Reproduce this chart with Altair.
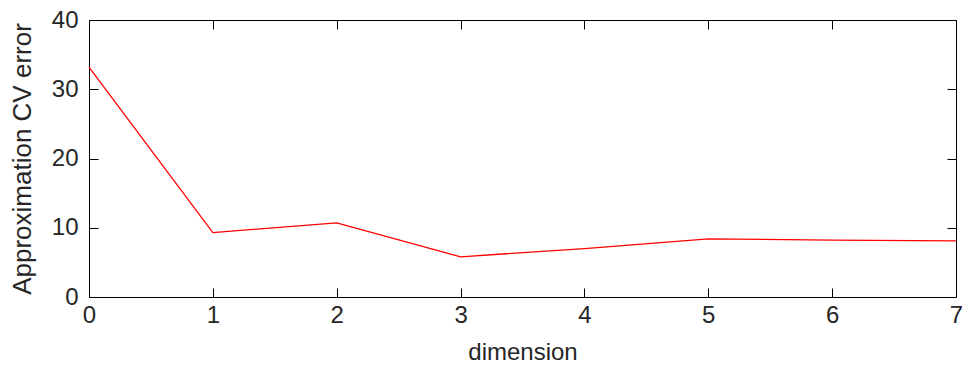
import altair as alt
import pandas as pd

dims = [0, 1, 2, 3, 4, 5, 6, 7]
cv_error = [33.2, 9.3, 10.7, 5.8, 7.0, 8.4, 8.2, 8.1]
x_ticks = [0, 1, 2, 3, 4, 5, 6, 7]
y_ticks = [0, 10, 20, 30, 40]

df = pd.DataFrame({"dimension": dims, "error": cv_error})

FONT = "Liberation Sans"
TXT = "#262626"

xscale = alt.Scale(domain=[0, 7], nice=False, zero=False)
yscale = alt.Scale(domain=[0, 40], nice=False)

line = alt.Chart(df).mark_line(color="#ff0000", strokeWidth=1.3).encode(
    x=alt.X("dimension:Q", scale=xscale,
            axis=alt.Axis(values=x_ticks, orient="bottom", offset=-9, tickSize=9,
                          tickColor="#000", domain=False, grid=False,
                          labelFlush=False, labelOverlap=False,
                          labelPadding=6, labelFontSize=24, labelFont=FONT,
                          labelColor=TXT, title="dimension", titleFont=FONT,
                          titleFontSize=24, titleFontWeight="normal",
                          titleColor=TXT, titlePadding=13)),
    y=alt.Y("error:Q", scale=yscale,
            axis=alt.Axis(values=y_ticks, orient="left", offset=-9, tickSize=9,
                          tickColor="#000", domain=False, grid=False,
                          labelFlush=False, labelOverlap=False,
                          labelPadding=11, labelFontSize=24, labelFont=FONT,
                          labelColor=TXT, title="Approximation CV error",
                          titleFont=FONT, titleFontSize=26,
                          titleFontWeight="normal", titleColor=TXT,
                          titlePadding=16)),
)

frame = alt.Chart(df).mark_line(opacity=0).encode(
    x=alt.X("dimension:Q", scale=xscale,
            axis=alt.Axis(values=x_ticks, orient="top", offset=-9, tickSize=9,
                          tickColor="#000", domain=False, grid=False,
                          labels=False, title=None)),
    y=alt.Y("error:Q", scale=yscale,
            axis=alt.Axis(values=y_ticks, orient="right", offset=-9, tickSize=9,
                          tickColor="#000", domain=False, grid=False,
                          labels=False, title=None)),
)

chart = alt.layer(line, frame).resolve_axis(
    x="independent", y="independent"
).properties(
    width=867, height=277,
    autosize=alt.AutoSizeParams(type="none"),
    padding={"left": 89, "top": 20, "right": 6, "bottom": 70},
    background="white",
).configure_view(stroke="#000", strokeWidth=1)

chart.save("out.html", embed_options={"renderer": "svg", "actions": False})
